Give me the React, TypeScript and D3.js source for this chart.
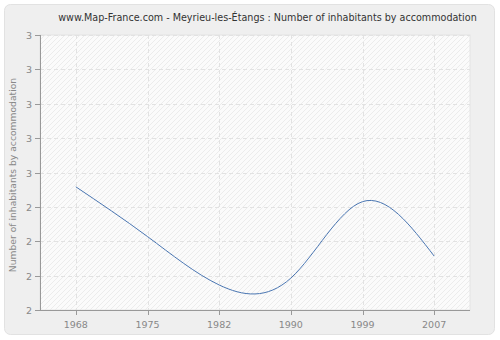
import React from "react";
import * as d3 from "d3";

const years = ["1968", "1975", "1982", "1990", "1999", "2007"];
const values = [2.448, 2.267, 2.091, 2.116, 2.394, 2.196];
const yTicks = [2, 2.125, 2.25, 2.375, 2.5, 2.625, 2.75, 2.875, 3];
const title = "www.Map-France.com - Meyrieu-les-Étangs : Number of inhabitants by accommodation";
const yTitle = "Number of inhabitants by accommodation";

export default function App() {
  const W = 500, H = 340;
  const left = 40, right = 470, top = 35, bottom = 310;
  const x = d3.scalePoint<string>().domain(years).range([left, right]).padding(0.5);
  const y = d3.scaleLinear().domain([2, 3]).range([bottom, top]);
  const line = d3.line<number>()
    .x((_, i) => x(years[i]) as number)
    .y((d) => y(d))
    .curve(d3.curveNatural);
  const fmt = (v: number) => (v).toFixed(0);
  const font = "'DejaVu Sans', Verdana, sans-serif";
  return (
    <svg width={W} height={H} style={{ position: "absolute", left: 0, top: 0, display: "block" }}>
      <defs>
        <pattern id="hatch" width="5" height="5" patternUnits="userSpaceOnUse">
          <rect width="5" height="5" fill="#fbfbfb" />
          <path d="M0,5 L5,0 M-1,1 L1,-1 M4,6 L6,4" stroke="#ececec" strokeWidth="1" />
        </pattern>
      </defs>
      <rect x={4.5} y={4.5} width={490} height={330} rx={6} fill="#efefef" stroke="#e2e2e2" />
      <text x={267.5} y={21} textAnchor="middle" fontFamily={font} fontSize={9.6} fill="#333">{title}</text>
      <rect x={left} y={top} width={right - left} height={bottom - top} fill="url(#hatch)" stroke="#e4e4e4" />
      {yTicks.map((t, i) => (
        <line key={"gy" + i} x1={left} x2={right} y1={Math.round(y(t)) + 0.5} y2={Math.round(y(t)) + 0.5}
          stroke="#e2e2e2" strokeDasharray="4,3" />
      ))}
      {years.map((yr) => (
        <line key={"gx" + yr} x1={Math.round(x(yr) as number) + 0.5} x2={Math.round(x(yr) as number) + 0.5}
          y1={top} y2={bottom} stroke="#e2e2e2" strokeDasharray="4,3" />
      ))}
      <path d={line(values) || ""} fill="none" stroke="#4a76b2" strokeWidth={1} />
      <line x1={left + 0.5} x2={left + 0.5} y1={top} y2={bottom} stroke="#999" />
      <line x1={left} x2={right} y1={bottom + 0.5} y2={bottom + 0.5} stroke="#999" />
      {yTicks.map((t, i) => (
        <g key={"ty" + i}>
          <line x1={left - 5} x2={left} y1={Math.round(y(t)) + 0.5} y2={Math.round(y(t)) + 0.5} stroke="#999" />
          <text x={left - 8} y={y(t) + 4} textAnchor="end" fontFamily={font} fontSize={9.5} fill="#888">{fmt(t)}</text>
        </g>
      ))}
      {years.map((yr) => (
        <g key={"tx" + yr}>
          <line x1={Math.round(x(yr) as number) + 0.5} x2={Math.round(x(yr) as number) + 0.5} y1={bottom} y2={bottom + 5} stroke="#999" />
          <text x={x(yr) as number} y={bottom + 18} textAnchor="middle" fontFamily={font} fontSize={9.5} fill="#888">{yr}</text>
        </g>
      ))}
      <text transform={`translate(16,${(77 + 273) / 2}) rotate(-90)`} textAnchor="middle" fontFamily={font} fontSize={9.2} fill="#888">{yTitle}</text>
    </svg>
  );
}
